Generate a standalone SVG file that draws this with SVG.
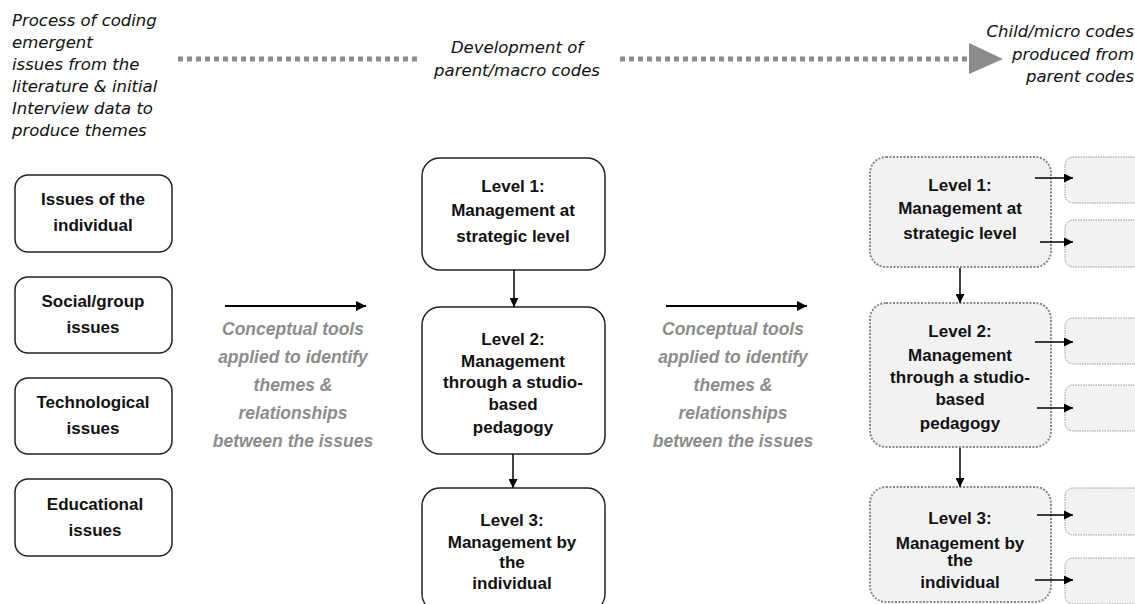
<svg xmlns="http://www.w3.org/2000/svg" width="1135" height="604" viewBox="0 0 1135 604">
<defs>
<marker id="ah" viewBox="0 0 10 10" refX="10" refY="5" markerWidth="5" markerHeight="5" markerUnits="strokeWidth" orient="auto"><path d="M0,0 L10,5 L0,10 z" fill="#000"/></marker>
<marker id="ah2" viewBox="0 0 10 10" refX="10" refY="5" markerWidth="6" markerHeight="6" markerUnits="strokeWidth" orient="auto"><path d="M0,0 L10,5 L0,10 z" fill="#000"/></marker>
<style>
.note{font-family:"DejaVu Sans",sans-serif;font-style:italic;font-size:16.5px;fill:#111}
.lbl{font-family:"Liberation Sans",Arial,sans-serif;font-weight:bold;font-size:17px;fill:#111;text-anchor:middle}
.gray{font-family:"Liberation Sans",Arial,sans-serif;font-weight:bold;font-style:italic;font-size:17.5px;fill:#8c8c8c;text-anchor:middle}
.box{fill:#fff;stroke:#222;stroke-width:1.5}
.dbox{fill:#f2f2f2;stroke:#888;stroke-width:2;stroke-dasharray:2 1.5}
.sbox{fill:#f2f2f2;stroke:#999;stroke-width:1;stroke-dasharray:1.5 1}
.dots{stroke:#8c8c8c;stroke-width:5;stroke-dasharray:5 4;fill:none}
.arr{stroke:#000;stroke-width:2;fill:none;marker-end:url(#ah)}
.varr{stroke:#000;stroke-width:1.5;fill:none;marker-end:url(#ah2)}
</style>
</defs>
<rect width="1135" height="604" fill="#fff"/>

<g id="header">
<text class="note" x="12" y="26">Process of coding</text>
<text class="note" x="12" y="48">emergent</text>
<text class="note" x="12" y="70">issues from the</text>
<text class="note" x="12" y="92">literature &amp; initial</text>
<text class="note" x="12" y="114">Interview data to</text>
<text class="note" x="12" y="136">produce themes</text>
<text class="note" x="517" y="53" text-anchor="middle">Development of</text>
<text class="note" x="517" y="76" text-anchor="middle">parent/macro codes</text>
<text class="note" x="1134" y="37" text-anchor="end">Child/micro codes</text>
<text class="note" x="1134" y="60" text-anchor="end">produced from</text>
<text class="note" x="1134" y="82" text-anchor="end">parent codes</text>
</g>

<g id="tools1">
<text class="gray" x="293" y="335">Conceptual tools</text>
<text class="gray" x="293" y="363">applied to identify</text>
<text class="gray" x="293" y="391">themes &amp;</text>
<text class="gray" x="293" y="419">relationships</text>
<text class="gray" x="293" y="447">between the issues</text>
</g>
<g id="tools2">
<text class="gray" x="733" y="335">Conceptual tools</text>
<text class="gray" x="733" y="363">applied to identify</text>
<text class="gray" x="733" y="391">themes &amp;</text>
<text class="gray" x="733" y="419">relationships</text>
<text class="gray" x="733" y="447">between the issues</text>
</g>

<g id="issue-individual"><rect class="box" x="15" y="175" width="157" height="77" rx="13"/>
<text class="lbl" x="93" y="205">Issues of the</text><text class="lbl" x="93" y="231">individual</text></g>
<g id="issue-social"><rect class="box" x="15" y="277" width="157" height="76" rx="13"/>
<text class="lbl" x="93" y="307">Social/group</text><text class="lbl" x="93" y="333">issues</text></g>
<g id="issue-tech"><rect class="box" x="15" y="378" width="157" height="76" rx="13"/>
<text class="lbl" x="93" y="408">Technological</text><text class="lbl" x="93" y="434">issues</text></g>
<g id="issue-edu"><rect class="box" x="15" y="479" width="157" height="77" rx="13"/>
<text class="lbl" x="95" y="510">Educational</text><text class="lbl" x="95" y="536">issues</text></g>

<g id="m-level1"><rect class="box" x="422" y="158" width="183" height="112" rx="18"/>
<text class="lbl" x="513" y="192">Level 1:</text><text class="lbl" x="513" y="216">Management at</text><text class="lbl" x="513" y="242">strategic level</text></g>
<g id="m-level2"><rect class="box" x="422" y="307" width="183" height="147" rx="18"/>
<text class="lbl" x="513" y="345">Level 2:</text><text class="lbl" x="513" y="367">Management</text><text class="lbl" x="513" y="388">through a studio-</text><text class="lbl" x="513" y="410">based</text><text class="lbl" x="513" y="433">pedagogy</text></g>
<g id="m-level3"><rect class="box" x="422" y="488" width="183" height="124" rx="18"/>
<text class="lbl" x="512" y="526">Level 3:</text><text class="lbl" x="512" y="548">Management by</text><text class="lbl" x="512" y="568">the</text><text class="lbl" x="512" y="589">individual</text></g>

<g id="r-level1"><rect class="dbox" x="870" y="157" width="181" height="110" rx="16"/>
<text class="lbl" x="960" y="191">Level 1:</text><text class="lbl" x="960" y="214">Management at</text><text class="lbl" x="960" y="239">strategic level</text></g>
<g id="r-level2"><rect class="dbox" x="870" y="303" width="181" height="144" rx="16"/>
<text class="lbl" x="960" y="337">Level 2:</text><text class="lbl" x="960" y="361">Management</text><text class="lbl" x="960" y="383">through a studio-</text><text class="lbl" x="960" y="405">based</text><text class="lbl" x="960" y="429">pedagogy</text></g>
<g id="r-level3"><rect class="dbox" x="870" y="487" width="181" height="115" rx="16"/>
<text class="lbl" x="960" y="524">Level 3:</text><text class="lbl" x="960" y="549">Management by</text><text class="lbl" x="960" y="566">the</text><text class="lbl" x="960" y="588">individual</text></g>

<g id="child1"><rect class="sbox" x="1065" y="157" width="90" height="46" rx="8"/></g>
<g id="child2"><rect class="sbox" x="1065" y="220" width="90" height="47" rx="8"/></g>
<g id="child3"><rect class="sbox" x="1065" y="318" width="90" height="46" rx="8"/></g>
<g id="child4"><rect class="sbox" x="1065" y="385" width="90" height="46" rx="8"/></g>
<g id="child5"><rect class="sbox" x="1065" y="488" width="90" height="47" rx="8"/></g>
<g id="child6"><rect class="sbox" x="1065" y="558" width="90" height="46" rx="8"/></g>

<g id="connectors">
<line class="dots" x1="178" y1="59" x2="421" y2="59"/>
<line class="dots" x1="620" y1="59" x2="967" y2="59"/>
<polygon points="969,43 1003,59 969,74" fill="#8c8c8c"/>
<line class="arr" x1="225" y1="306" x2="366" y2="306"/>
<line class="arr" x1="666" y1="306" x2="807" y2="306"/>
<line class="varr" x1="514" y1="270" x2="514" y2="307"/>
<line class="varr" x1="513" y1="454" x2="513" y2="488"/>
<line class="varr" x1="960" y1="268" x2="960" y2="303"/>
<line class="varr" x1="960" y1="448" x2="960" y2="487"/>
<line class="varr" x1="1035" y1="178" x2="1073" y2="178"/>
<line class="varr" x1="1040" y1="242" x2="1073" y2="242"/>
<line class="varr" x1="1035" y1="342" x2="1073" y2="342"/>
<line class="varr" x1="1037" y1="408" x2="1073" y2="408"/>
<line class="varr" x1="1037" y1="515" x2="1073" y2="515"/>
<line class="varr" x1="1035" y1="580" x2="1073" y2="580"/>
</g>
</svg>
